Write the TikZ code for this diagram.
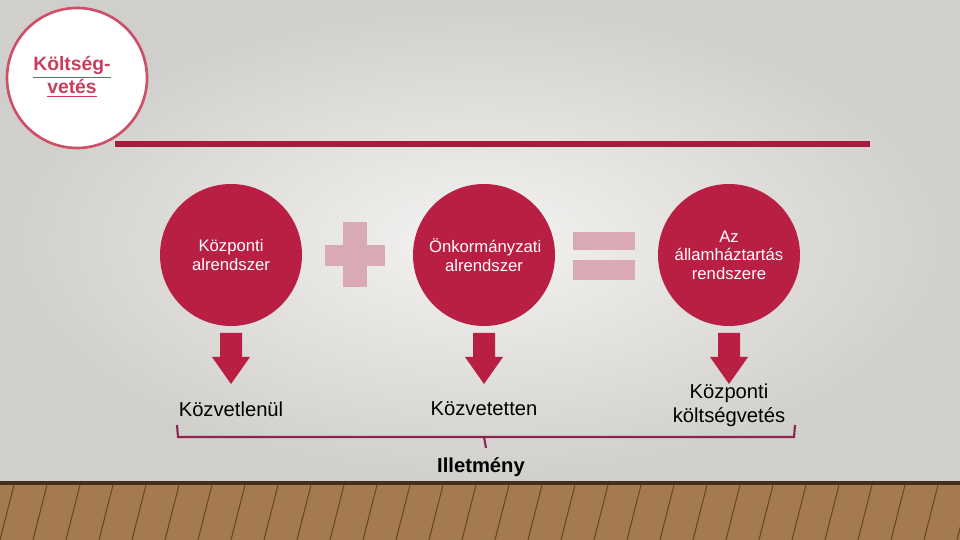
\documentclass[tikz,border=0pt]{standalone}
\usepackage{fontspec}
\setmainfont{Liberation Sans}
\begin{document}
\begin{tikzpicture}[x=0.02cm,y=-0.02cm,
  bigc/.style={circle,fill=crim,minimum size=142*0.02cm,inner sep=0pt,text=white,font=\fontsize{9.5}{10.5}\selectfont,align=center,text width=2.2cm},
  lbl/.style={font=\fontsize{11.5}{13.5}\selectfont,align=center},
  pk/.style={fill=pinkl,draw=none},
  arr/.style={fill=crim,draw=none}]
\definecolor{crim}{HTML}{B91F43}
\definecolor{pinkl}{HTML}{D9A9B5}
\definecolor{bgc}{HTML}{E3E1DD}
\definecolor{bracec}{HTML}{8C2452}
\definecolor{wood}{HTML}{A57A50}
\useasboundingbox (0,0) rectangle (960,540);
\shade[inner color=white!60!bgc,outer color=bgc!92!black] (0,0) rectangle (960,483);
\fill[wood] (0,483) rectangle (960,540);
\fill[black!60!wood] (0,481) rectangle (960,485);
\foreach \i in {0,...,30}{\draw[wood!60!black,line width=0.6pt] ({\i*33},540) -- ({\i*33+14},485);}
\node[circle,draw=crim!70!pink,line width=1.5pt,fill=white,minimum size=140*0.02cm] (kv) at (77,78) {};
\node[font=\fontsize{11}{13}\selectfont\bfseries,text=crim!80!pink,align=center] (kvt) at (72,77) {\underline{Költség-}\\\underline{vetés}};
\coordinate (l1) at (115,144); \coordinate (l2) at (870,144);
\draw[crim!90!black,line width=3pt] (l1) -- (l2);
\node[bigc] (c1) at (231,255) {Központi\\alrendszer};
\node[bigc] (c2) at (484,255) {Önkormányzati\\alrendszer};
\node[bigc] (c3) at (729,255) {Az\\államháztartás\\rendszere};
\fill[pk] (343,222) rectangle (367,287);
\fill[pk] (325,245) rectangle (385,266);
\fill[pk] (573,232) rectangle (635,250);
\fill[pk] (573,260) rectangle (635,280);
\foreach \x in {231,484,729}{
 \fill[arr] (\x-11,333) -- (\x+11,333) -- (\x+11,357) -- (\x+19,357) -- (\x,384) -- (\x-19,357) -- (\x-11,357) -- cycle;}
\node[lbl] (t1) at (231,409) {Közvetlenül};
\node[lbl] (t2) at (484,409) {Közvetetten};
\node[lbl] (t3) at (729,405) {Központi\\költségvetés};
\draw[bracec,line width=1.2pt] (177,425) -- (178,437) -- (794,437) -- (795,425);
\draw[bracec,line width=1.2pt] (484,437) -- (486,448);
\node[font=\fontsize{11.5}{13.5}\selectfont\bfseries] (il) at (481,467) {Illetmény};
\end{tikzpicture}
\end{document}
